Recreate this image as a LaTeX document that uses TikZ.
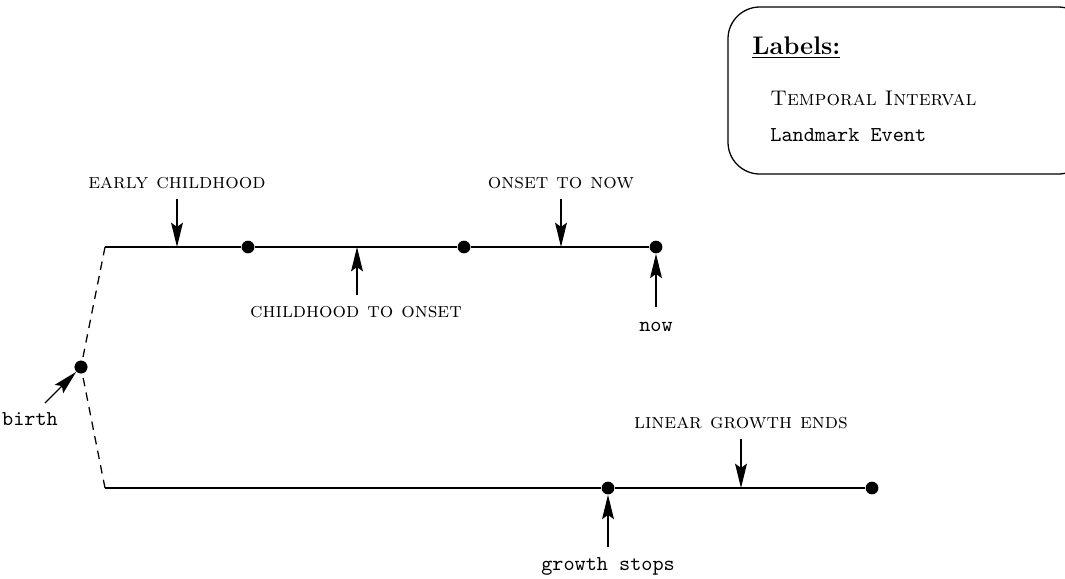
\documentclass[tikz,border=0pt]{standalone}
\usetikzlibrary{arrows.meta}
\begin{document}
\begin{tikzpicture}[x=0.472pt,y=-0.472pt,
  tl/.style={line width=0.6pt},
  arr/.style={line width=0.6pt,-{Stealth[length=11.5pt,width=5.6pt,inset=2pt]}},
  dot/.style={circle,fill=black,inner sep=0pt,minimum size=6pt},
  sclab/.style={font=\scshape,inner sep=0pt},
  ttlab/.style={font=\ttfamily,inner sep=0pt}]
\useasboundingbox (0,0) rectangle (1065,578);
\clip (0,0) rectangle (1065,578);
% legend
\draw[line width=0.6pt,rounded corners=15] (728,7) rectangle (1090,174);
\node[anchor=west,inner sep=0pt,font=\large\bfseries] (lt) at (752,48) {\underline{Labels:}};
\node[anchor=west,inner sep=0pt] (li) at (770,98) {\textsc{Temporal Interval}};
\node[anchor=west,ttlab] (le) at (770,135) {Landmark Event};
% top timeline
\coordinate (t0) at (105,247);
\node[dot] (t1) at (248,247) {};
\node[dot] (t2) at (464,247) {};
\node[dot] (t3) at (656,247) {};
\draw[tl] (t0) -- (t1) -- (t2) -- (t3);
% bottom timeline
\coordinate (b0) at (105,488);
\node[dot] (b1) at (608,488) {};
\node[dot] (b2) at (872,488) {};
\draw[tl] (b0) -- (b1) -- (b2);
% birth
\node[dot] (bd) at (81,367) {};
\draw[tl,dash pattern=on 4pt off 3pt] (t0) -- (bd.center) -- (b0);
\node[dot] at (81,367) {};
% labels and arrows
\node[sclab] (ec) at (177,183) {early childhood};
\coordinate (ecT) at (177,199);
\coordinate (ecH) at (177,247);
\draw[arr] (ecT) -- (ecH);
\node[sclab] (co) at (356,312) {childhood to onset};
\coordinate (coT) at (357,295);
\coordinate (coH) at (357,247);
\draw[arr] (coT) -- (coH);
\node[sclab] (on) at (561,183) {onset to now};
\coordinate (onT) at (561,199);
\coordinate (onH) at (561,247);
\draw[arr] (onT) -- (onH);
\node[ttlab] (now) at (656,327) {now};
\coordinate (nowT) at (656,307);
\draw[arr] (nowT) -- (t3);
\node[ttlab] (birth) at (30,419) {birth};
\coordinate (bT) at (45,403);
\draw[arr] (bT) -- (bd);
\node[ttlab] (gs) at (608,566) {growth stops};
\coordinate (gsT) at (608,547);
\draw[arr] (gsT) -- (b1);
\node[sclab] (lg) at (741,423) {linear growth ends};
\coordinate (lgT) at (741,439);
\coordinate (lgH) at (741,488);
\draw[arr] (lgT) -- (lgH);
\end{tikzpicture}
\end{document}
